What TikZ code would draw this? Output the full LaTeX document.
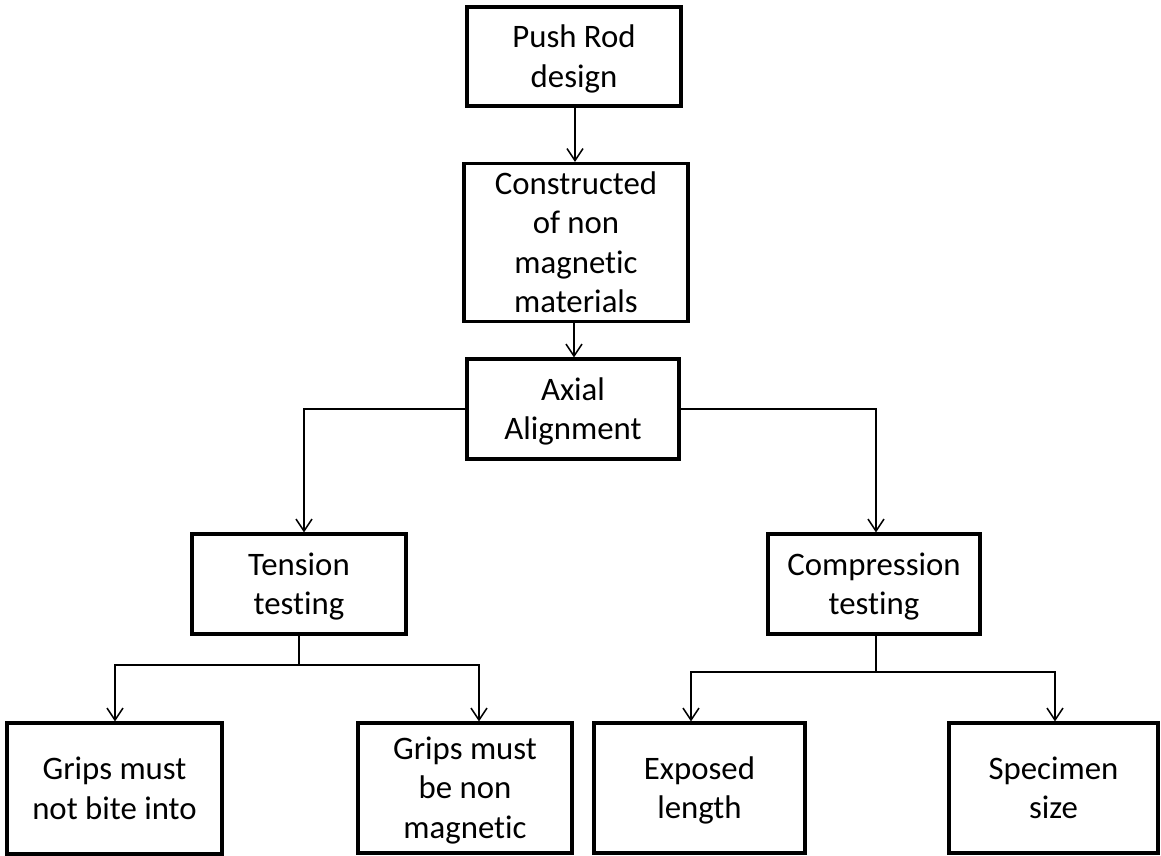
\documentclass[tikz,border=0pt]{standalone}
\usepackage{fontspec}
\setmainfont{Carlito}[Ligatures={NoCommon,NoContextual}]
\usetikzlibrary{arrows.meta,calc}
\newcommand{\bxtext}[1]{\raisebox{-3pt}[\height][\depth]{\begin{tabular}{@{}c@{}}#1\end{tabular}}}
\begin{document}
\begin{tikzpicture}[x=1pt,y=-1pt,
  box/.style={draw=black,line width=3.2pt,fill=white,rectangle,
    inner sep=0pt,font=\fontsize{32.8}{39.5}\selectfont},
  conn/.style={draw=black,line width=1.5pt},
  arr/.style={conn,-{Straight Barb[length=12pt,width=16pt,line width=1.5pt]}}]
\useasboundingbox (0,0) rectangle (1161,856);
\fill[white] (0,0) rectangle (1161,856);
\node[box,minimum width=214pt,minimum height=99pt] (push) at (574,56.5) {\bxtext{Push Rod\\design}};
\node[box,minimum width=224pt,minimum height=157pt] (cons) at (576,242.5) {\bxtext{Constructed\\of non\\magnetic\\materials}};
\node[box,minimum width=212pt,minimum height=100pt] (axial) at (573,409) {\bxtext{Axial\\Alignment}};
\node[box,minimum width=214pt,minimum height=100pt] (tension) at (299,584) {\bxtext{Tension\\testing}};
\node[box,minimum width=212pt,minimum height=100pt] (comp) at (874,584) {\bxtext{Compression\\testing}};
\node[box,minimum width=215pt,minimum height=131pt] (g1) at (114.5,788.5) {\bxtext{Grips must\\not bite into}};
\node[box,minimum width=214pt,minimum height=130pt] (g2) at (465,788) {\bxtext{Grips must\\be non\\magnetic}};
\node[box,minimum width=211pt,minimum height=130pt] (exp) at (699.5,788) {\bxtext{Exposed\\length}};
\node[box,minimum width=209pt,minimum height=130pt] (spec) at (1053.5,788) {\bxtext{Specimen\\size}};
\coordinate (pc) at ([xshift=1pt]push.south);
\coordinate (ca) at ([xshift=-2pt]cons.south);
\coordinate (tj) at (299,665);
\coordinate (cj) at (876,672);
\draw[arr] (pc) -- (pc |- cons.north);
\draw[arr] (ca) -- (ca |- axial.north);
\draw[arr] (axial.west) -| ([xshift=5pt]tension.north);
\draw[arr] (axial.east) -| ([xshift=2pt]comp.north);
\draw[conn] (tension.south) -- (tj);
\draw[arr] (tj) -| ([xshift=0.5pt]g1.north);
\draw[arr] (tj) -| ([xshift=14pt]g2.north);
\draw[conn] (cj |- comp.south) -- (cj);
\draw[arr] (cj) -| ([xshift=-8.5pt]exp.north);
\draw[arr] (cj) -| ([xshift=1.5pt]spec.north);
\end{tikzpicture}
\end{document}
